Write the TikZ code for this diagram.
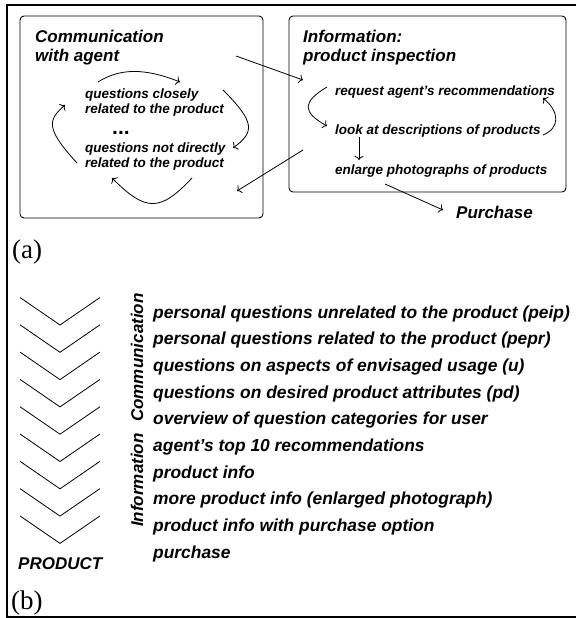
\documentclass[tikz,border=0pt]{standalone}
\usepackage{fontspec}
\setmainfont{Liberation Serif}
\newfontfamily\arialfont{Liberation Sans}
\usetikzlibrary{arrows.meta}

\tikzset{
  bigtxt/.style={inner sep=0pt,anchor=base west,font=\arialfont\bfseries\itshape\fontsize{17}{20}\selectfont},
  listtxt/.style={inner sep=0pt,anchor=base west,font=\arialfont\bfseries\itshape\fontsize{17.4}{20}\selectfont},
  smalltxt/.style={inner sep=0pt,anchor=base west,font=\arialfont\bfseries\itshape\fontsize{13.5}{15}\selectfont},
  paneltxt/.style={inner sep=0pt,anchor=base west,font=\fontsize{27}{30}\selectfont},
}

\begin{document}
\begin{tikzpicture}[x=1pt,y=-1pt,>={To[length=4pt,width=9pt]}]
\useasboundingbox (0,0) rectangle (576,618);
% frame round both parts
\draw[line width=2.5pt] (576,5) -- (7,5) -- (7,617) -- (576,617);

% (a)
\begin{scope}[every node/.style={draw,rounded corners=4pt,line width=0.9pt,inner sep=0pt}]
  \node[minimum width=243pt,minimum height=202pt] (commBox) at (141.5,117) {};
  \node[minimum width=277pt,minimum height=176pt] (infoBox) at (427.5,104) {};
\end{scope}

\node[bigtxt] (commA) at (35,43) {Communication};
\node[bigtxt] (commB) at (35,62) {with agent};
\node[bigtxt] (infoA) at (303,43) {Information:};
\node[bigtxt] (infoB) at (303,62) {product inspection};

\node[smalltxt] (closeA) at (85,98) {questions closely};
\node[smalltxt] (closeB) at (85,113) {related to the product};
\node[smalltxt,font=\arialfont\bfseries\fontsize{21}{21}\selectfont] (dots) at (112,134) {...};
\node[smalltxt] (notA) at (85,152) {questions not directly};
\node[smalltxt] (notB) at (85,167) {related to the product};

\node[smalltxt] (request) at (335,95) {request agent’s recommendations};
\node[smalltxt] (look) at (335,134) {look at descriptions of products};
\node[smalltxt] (enlarge) at (335,174) {enlarge photographs of products};
\node[bigtxt] (purchase) at (456,218) {Purchase};

\node[paneltxt] (panelA) at (12,258) {(a)};

% loose ends of the arrows
\coordinate (loopT1) at (98,82);   \coordinate (loopT2) at (180,82);
\coordinate (loopR1) at (223,90);  \coordinate (loopR2) at (233,148);
\coordinate (loopB1) at (192,178); \coordinate (loopB2) at (112,178);
\coordinate (loopL1) at (77,163);  \coordinate (loopL2) at (65,105);
\coordinate (toInfo1) at (236,56); \coordinate (toInfo2) at (303,80);
\coordinate (toComm1) at (303,150); \coordinate (toComm2) at (237,191);
\coordinate (reqL) at (327,87);    \coordinate (lookL) at (327,126);
\coordinate (lookR) at (543,135);  \coordinate (reqR) at (543,98);
\coordinate (lookD) at (359,137);  \coordinate (enlU) at (359,160);
\coordinate (enlD) at (385,184);   \coordinate (purchL) at (443,210);

\begin{scope}[line width=0.8pt]
  \draw[->] (loopT1) .. controls (120,68) and (145,68) .. (loopT2);
  \draw[->] (loopR1) .. controls (255,122) and (255,132) .. (loopR2);
  \draw[->] (loopB1) .. controls (160,212) and (146,212) .. (loopB2);
  \draw[->] (loopL1) .. controls (45,128) and (48,120) .. (loopL2);
  \draw[->] (reqL) .. controls (302,102) and (302,112) .. (lookL);
  \draw[->] (lookR) .. controls (560,128) and (560,112) .. (reqR);
  \path[->] (toInfo1) edge (toInfo2);
  \path[->] (toComm1) edge (toComm2);
  \path[->] (lookD) edge (enlU);
  \path[->] (enlD) edge (purchL);
\end{scope}

% (b)
\foreach \k in {0,...,8}{
  \pgfmathsetmacro{\ytop}{297.5+27.3*\k}
  \draw[line width=0.8pt] (20,\ytop) -- (60,\ytop+27.5) -- (100,\ytop);
}

\node[bigtxt,rotate=90] (infoSide) at (143,527) {Information};
\node[bigtxt,rotate=90] (commSide) at (143,422) {Communication};

\foreach \txt [count=\i from 0] in {
  personal questions unrelated to the product (peip),
  personal questions related to the product (pepr),
  questions on aspects of envisaged usage (u),
  questions on desired product attributes (pd),
  overview of question categories for user,
  agent’s top 10 recommendations,
  product info,
  more product info (enlarged photograph),
  product info with purchase option,
  purchase}
  \node[listtxt] (item\i) at (153,318+26.7*\i) {\txt};

\node[bigtxt] (product) at (18,569) {PRODUCT};
\node[paneltxt] (panelB) at (11,609) {(b)};
\end{tikzpicture}
\end{document}
